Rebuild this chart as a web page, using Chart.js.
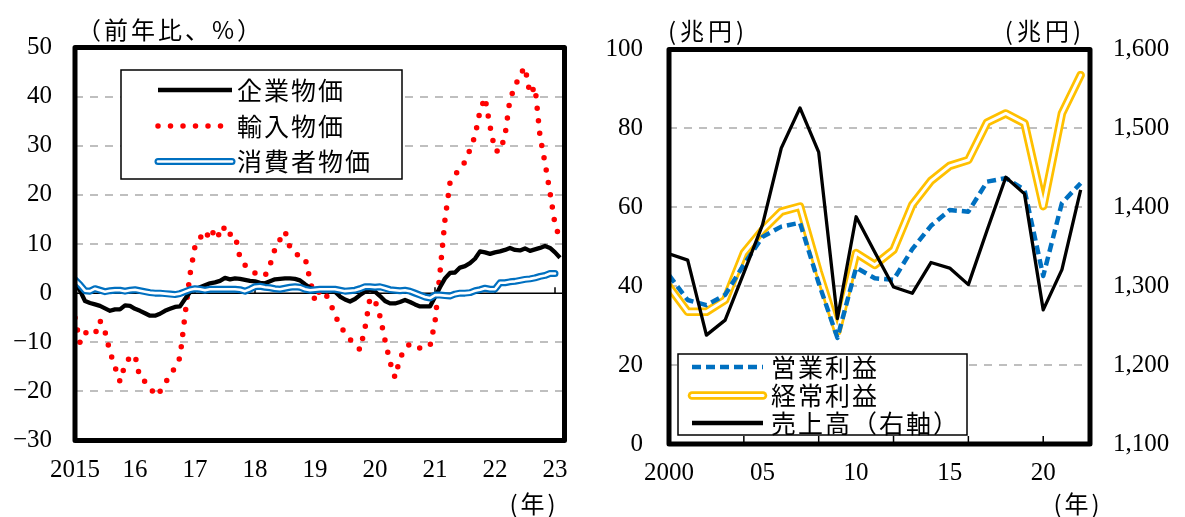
<!DOCTYPE html>
<html>
<head>
<meta charset="utf-8">
<script src="https://cdn.jsdelivr.net/npm/chart.js@4.4.0/dist/chart.umd.min.js"></script>
<style>
  html, body { margin: 0; padding: 0; background: #fff; }
  #wrap { position: relative; width: 1185px; height: 517px; }
  #priceChart { position: absolute; left: 0; top: 0; }
  #profitChart { position: absolute; left: 590px; top: 0; }
</style>
</head>
<body>
<div id="wrap">
  <canvas id="priceChart" width="590" height="517"></canvas>
  <canvas id="profitChart" width="595" height="517"></canvas>
</div>
<script>
// left panel: monthly, Jan 2015 = 0
const yearTickPos = [0, 12, 24, 36, 48, 60, 72, 84, 96];
const yearLabels = ['2015', '16', '17', '18', '19', '20', '21', '22', '23'];
const pctTicks = [-30, -20, -10, 0, 10, 20, 30, 40, 50];
const pctLabels = ['\u221230', '\u221220', '\u221210', '0', '10', '20', '30', '40', '50'];

const kigyo = [
  2.3, 0.5, -1.6, -2.0, -2.3, -2.6, -3.1, -3.6, -3.3, -3.3, -2.5, -2.6,
  -3.2, -3.6, -4.1, -4.6, -4.6, -4.2, -3.6, -3.2, -2.8, -2.7, -1.2, 0.2,
  0.8, 1.2, 1.6, 2.0, 2.2, 2.5, 3.1, 2.8, 3.0, 2.9, 2.7, 2.5,
  2.4, 2.1, 2.0, 2.4, 2.8, 2.9, 3.0, 3.0, 2.9, 2.6, 1.8, 1.1,
  0.6, 0.7, 0.8, 0.7, 0.3, -0.7, -1.3, -1.7, -1.2, -0.4, 0.3, 0.6,
  0.3, -0.6, -1.6, -2.1, -2.1, -1.8, -1.4, -1.8, -2.3, -2.7, -2.7, -2.7,
  -0.8, 1.2, 3.0, 4.1, 4.2, 5.2, 5.5, 6.1, 7.0, 8.5, 8.3, 8.0,
  8.3, 8.5, 8.8, 9.2, 8.8, 8.7, 9.1, 8.6, 8.9, 9.2, 9.6, 9.2,
  8.3, 7.2
];
const yunyu = [
  -5.0, -10.1, -8.1, -8.0, -8.4, -5.6, -7.8, -12.0, -15.0, -18.0, -14.5, -13.0,
  -12.6, -17.4, -18.0, -19.0, -20.9, -20.0, -18.5, -16.5, -15.3, -13.1, -4.5, 3.8,
  9.5, 11.2, 12.7, 10.9, 13.2, 11.4, 13.7, 12.0, 11.9, 7.2, 5.7, 5.0,
  4.1, 3.6, 3.5, 5.7, 9.0, 10.9, 12.6, 9.3, 8.0, 7.6, 7.3, 2.7,
  -1.6, 0.7, 0.0, -1.8, -4.5, -6.5, -8.2, -9.4, -10.5, -11.5, -7.1, -1.0,
  -1.5, -4.7, -9.6, -14.0, -17.2, -13.3, -11.3, -10.3, -10.5, -11.2, -10.9, -10.8,
  -5.9, 4.2, 15.0, 22.5, 24.2, 25.1, 26.8, 29.2, 32.0, 37.1, 39.8, 34.0,
  29.0, 28.8, 32.1, 39.5, 42.0, 44.5, 46.0, 40.5, 42.0, 32.0, 26.5, 20.5,
  14.0, 11.0
];
const shohisha = [
  2.7, 1.7, 0.5, 0.4, 0.9, 0.6, 0.3, 0.5, 0.6, 0.6, 0.4, 0.6,
  0.7, 0.5, 0.3, 0.1, 0.0, 0.0, -0.1, -0.2, -0.3, -0.1, 0.3, 0.7,
  0.9, 0.8, 0.6, 0.8, 0.8, 0.8, 0.8, 0.8, 0.8, 0.7, 0.4, 0.8,
  1.3, 1.4, 1.2, 1.1, 0.9, 0.8, 1.0, 1.2, 1.3, 1.2, 0.8, 0.6,
  0.7, 0.8, 0.8, 0.8, 0.8, 0.6, 0.4, 0.5, 0.6, 0.9, 1.3, 1.3,
  1.2, 1.3, 1.0, 0.7, 0.6, 0.5, 0.6, 0.4, 0.0, -0.4, -0.8, -1.0,
  -0.4, -0.4, -0.5, -0.6, -0.2, 0.0, 0.0, 0.1, 0.5, 0.7, 1.0, 0.8,
  0.8, 2.1, 2.1, 2.3, 2.4, 2.6, 2.8, 2.9, 3.1, 3.4, 3.6, 4.0,
  4.0
];

// right panel: yearly, 2000 = 0
const fyTickPos = [0, 5, 10, 15, 20];
const fyLabels = ['2000', '05', '10', '15', '20'];
const fyTickMarks = [4, 8, 12, 16, 20];
const yenTicks = [0, 20, 40, 60, 80, 100];
const yenLabels = ['0', '20', '40', '60', '80', '100'];
const salesTicks = [1100, 1200, 1300, 1400, 1500, 1600];
const salesLabels = ['1,100', '1,200', '1,300', '1,400', '1,500', '1,600'];

const eigyo = [42.8, 36.5, 35.2, 37.8, 45.5, 52.5, 55.1, 56.1, 40.8, 26.9, 44.7, 42.0,
  41.6, 49.4, 55.3, 59.3, 58.9, 66.5, 67.4, 64.4, 42.6, 61.1, 66.1];
const keijo = [39.9, 33.5, 33.5, 36.5, 48.4, 54.2, 58.9, 60.2, 43.6, 28.5, 48.4, 45.4,
  49.2, 60.6, 66.7, 70.5, 72.0, 81.5, 83.8, 81.3, 60.3, 83.8, 93.5];
const uriage = [1341, 1333, 1238, 1257, 1317, 1378, 1475, 1526, 1470, 1259, 1388, 1343,
  1299, 1291, 1330, 1323, 1302, 1371, 1438, 1417, 1270, 1321, 1422];

const NUM_FONT = '"Liberation Serif", "Times New Roman", serif';
const JP_FONT = '"Noto Sans CJK JP", "Noto Sans", sans-serif';
const GRID = '#bfbfbf';

const stKigyo = {color: '#000000', width: 4.3};
const stYunyu = {color: '#ff0000', width: 5.5, dash: [0, 12.5], cap: 'round'};
const stShohisha = {color: '#0070c0', width: 7, cap: 'round', inner: {color: '#ffffff', width: 2.6, cap: 'round'}};
const stEigyo = {color: '#0070c0', width: 4.5, dash: [9, 5]};
const stKeijo = {color: '#ffc000', width: 8.5, cap: 'round', inner: {color: '#ffffff', width: 3, cap: 'round'}};
const stUriage = {color: '#000000', width: 3.3};
const stUriageLegend = {color: '#000000', width: 4.3};

Chart.defaults.color = '#000';
Chart.defaults.font.family = NUM_FONT;

function xy(arr) {
  return arr.map(function (v, i) { return {x: i, y: v}; });
}

function lineSet(label, data, st, order, axis) {
  return {
    label: label,
    data: xy(data),
    yAxisID: axis || 'y',
    borderColor: st.color,
    borderWidth: st.width,
    borderDash: st.dash || [],
    borderCapStyle: st.cap || 'butt',
    borderJoinStyle: 'round',
    pointRadius: 0,
    pointHoverRadius: 0,
    tension: 0,
    fill: false,
    order: order
  };
}

function fixTicks(values) {
  return function (scale) {
    scale.ticks = values.map(function (v) { return {value: v}; });
  };
}

function drawSample(ctx, x1, x2, y, st) {
  ctx.save();
  ctx.beginPath();
  ctx.moveTo(x1, y);
  ctx.lineTo(x2, y);
  ctx.strokeStyle = st.color;
  ctx.lineWidth = st.width;
  ctx.lineCap = st.cap || 'butt';
  ctx.setLineDash(st.dash || []);
  ctx.stroke();
  if (st.inner) {
    ctx.strokeStyle = st.inner.color;
    ctx.lineWidth = st.inner.width;
    ctx.stroke();
  }
  ctx.restore();
}

function jpText(ctx, text, x, y, align, size, spacing) {
  ctx.save();
  ctx.font = size + 'px ' + JP_FONT;
  ctx.fillStyle = '#000';
  ctx.textAlign = align;
  ctx.textBaseline = 'middle';
  ctx.letterSpacing = (spacing || 2) + 'px';
  ctx.fillText(text, x, y);
  ctx.restore();
}

function drawLegend(ctx, box, items) {
  ctx.save();
  ctx.fillStyle = '#fff';
  ctx.fillRect(box.x, box.y, box.w, box.h);
  ctx.strokeStyle = '#000';
  ctx.lineWidth = 1.5;
  ctx.strokeRect(box.x, box.y, box.w, box.h);
  ctx.restore();
  items.forEach(function (it, i) {
    const y = box.rows[i];
    drawSample(ctx, box.s1, box.s2, y, it.style);
    jpText(ctx, it.label, box.tx, y, 'left', 25);
  });
}

function drawFrame(ctx, a) {
  ctx.save();
  ctx.strokeStyle = '#000';
  ctx.lineWidth = 5;
  ctx.lineJoin = 'round';
  ctx.strokeRect(a.left, a.top, a.right - a.left, a.bottom - a.top);
  ctx.restore();
}

const pricePlugin = {
  id: 'priceFrame',
  beforeDatasetsDraw: function (chart) {
    const ctx = chart.ctx, a = chart.chartArea;
    const y0 = chart.scales.y.getPixelForValue(0);
    ctx.save();
    ctx.strokeStyle = '#000';
    ctx.lineWidth = 1.5;
    ctx.beginPath();
    ctx.moveTo(a.left, y0);
    ctx.lineTo(a.right, y0);
    yearTickPos.slice(1).forEach(function (v) {
      const x = chart.scales.x.getPixelForValue(v);
      ctx.moveTo(x, y0);
      ctx.lineTo(x, y0 - 6);
    });
    ctx.stroke();
    ctx.restore();
  },
  afterDatasetsDraw: function (chart) {
    const ctx = chart.ctx;
    drawFrame(ctx, chart.chartArea);
    drawLegend(ctx, {x: 121, y: 70, w: 281, h: 109, s1: 158, s2: 232, tx: 237, rows: [90, 126, 161.5]}, [
      {label: '企業物価', style: stKigyo},
      {label: '輸入物価', style: stYunyu},
      {label: '消費者物価', style: stShohisha}
    ]);
    jpText(ctx, '（前年比、%）', 77, 30, 'left', 24, 3);
    jpText(ctx, '(年)', 534, 504, 'center', 24, 3);
  }
};

const profitPlugin = {
  id: 'profitFrame',
  afterDatasetsDraw: function (chart) {
    const ctx = chart.ctx, a = chart.chartArea;
    ctx.save();
    ctx.strokeStyle = '#000';
    ctx.lineWidth = 1.5;
    ctx.beginPath();
    fyTickMarks.forEach(function (v) {
      const x = chart.scales.x.getPixelForValue(v);
      ctx.moveTo(x, a.bottom);
      ctx.lineTo(x, a.bottom - 8);
    });
    ctx.stroke();
    ctx.restore();
    drawFrame(ctx, a);
    drawLegend(ctx, {x: 88, y: 354, w: 289, h: 81, s1: 102, s2: 173, tx: 181, rows: [367, 395.5, 423]}, [
      {label: '営業利益', style: stEigyo},
      {label: '経常利益', style: stKeijo},
      {label: '売上高（右軸）', style: stUriageLegend}
    ]);
    jpText(ctx, '(兆円)', 78, 31, 'left', 24, 4);
    jpText(ctx, '(兆円)', 495, 31, 'right', 24, 4);
    jpText(ctx, '(年)', 488, 504, 'center', 24, 3);
  }
};

const tickFont = {family: NUM_FONT, size: 25, lineHeight: 1};

new Chart(document.getElementById('priceChart'), {
  type: 'line',
  data: {
    datasets: [
      lineSet('消費者物価', shohisha, stShohisha.inner, 0),
      lineSet('消費者物価', shohisha, stShohisha, 1),
      lineSet('企業物価', kigyo, stKigyo, 2),
      lineSet('輸入物価', yunyu, stYunyu, 3)
    ]
  },
  options: {
    responsive: false,
    animation: false,
    events: [],
    layout: {padding: {left: 0, right: 25.5, top: 47.5, bottom: 0}},
    plugins: {legend: {display: false}, tooltip: {enabled: false}},
    scales: {
      x: {
        type: 'linear', min: 0, max: 97.9,
        afterBuildTicks: fixTicks(yearTickPos),
        afterFit: function (s) { s.height = 76.5; },
        grid: {display: false, drawTicks: false},
        border: {display: false},
        ticks: {padding: 17, font: tickFont, maxRotation: 0, autoSkip: false,
          callback: function (v, i) { return yearLabels[i]; }}
      },
      y: {
        min: -30, max: 50,
        afterBuildTicks: fixTicks(pctTicks),
        afterFit: function (s) { s.width = 75; },
        grid: {
          drawTicks: false, lineWidth: 2,
          color: function (c) {
            const v = c.tick ? c.tick.value : 0;
            return (v > -30 && v < 50 && v !== 0) ? GRID : 'rgba(0,0,0,0)';
          }
        },
        border: {display: false, dash: [8, 7]},
        ticks: {padding: 23, font: tickFont,
          callback: function (v, i) { return pctLabels[i]; }}
      }
    }
  },
  plugins: [pricePlugin]
});

new Chart(document.getElementById('profitChart'), {
  type: 'line',
  data: {
    datasets: [
      lineSet('売上高（右軸）', uriage, stUriage, 0, 'y1'),
      lineSet('営業利益', eigyo, stEigyo, 1),
      lineSet('経常利益', keijo, stKeijo.inner, 2),
      lineSet('経常利益', keijo, stKeijo, 3)
    ]
  },
  options: {
    responsive: false,
    animation: false,
    events: [],
    layout: {padding: {left: 0, right: 0, top: 49.5, bottom: 0}},
    plugins: {legend: {display: false}, tooltip: {enabled: false}},
    scales: {
      x: {
        type: 'linear', min: 0, max: 22.5,
        afterBuildTicks: fixTicks(fyTickPos),
        afterFit: function (s) { s.height = 73; },
        grid: {display: false, drawTicks: false},
        border: {display: false},
        ticks: {padding: 17, font: tickFont, maxRotation: 0, autoSkip: false,
          callback: function (v, i) { return fyLabels[i]; }}
      },
      y: {
        position: 'left', min: 0, max: 100,
        afterBuildTicks: fixTicks(yenTicks),
        afterFit: function (s) { s.width = 79; },
        grid: {
          drawTicks: false, lineWidth: 2,
          color: function (c) {
            const v = c.tick ? c.tick.value : 0;
            return (v > 0 && v < 100) ? GRID : 'rgba(0,0,0,0)';
          }
        },
        border: {display: false, dash: [8, 7]},
        ticks: {padding: 26, font: tickFont,
          callback: function (v, i) { return yenLabels[i]; }}
      },
      y1: {
        position: 'right', min: 1100, max: 1600,
        afterBuildTicks: fixTicks(salesTicks),
        afterFit: function (s) { s.width = 95; },
        grid: {display: false, drawTicks: false},
        border: {display: false},
        ticks: {padding: 23, font: tickFont,
          callback: function (v, i) { return salesLabels[i]; }}
      }
    }
  },
  plugins: [profitPlugin]
});
</script>
</body>
</html>
